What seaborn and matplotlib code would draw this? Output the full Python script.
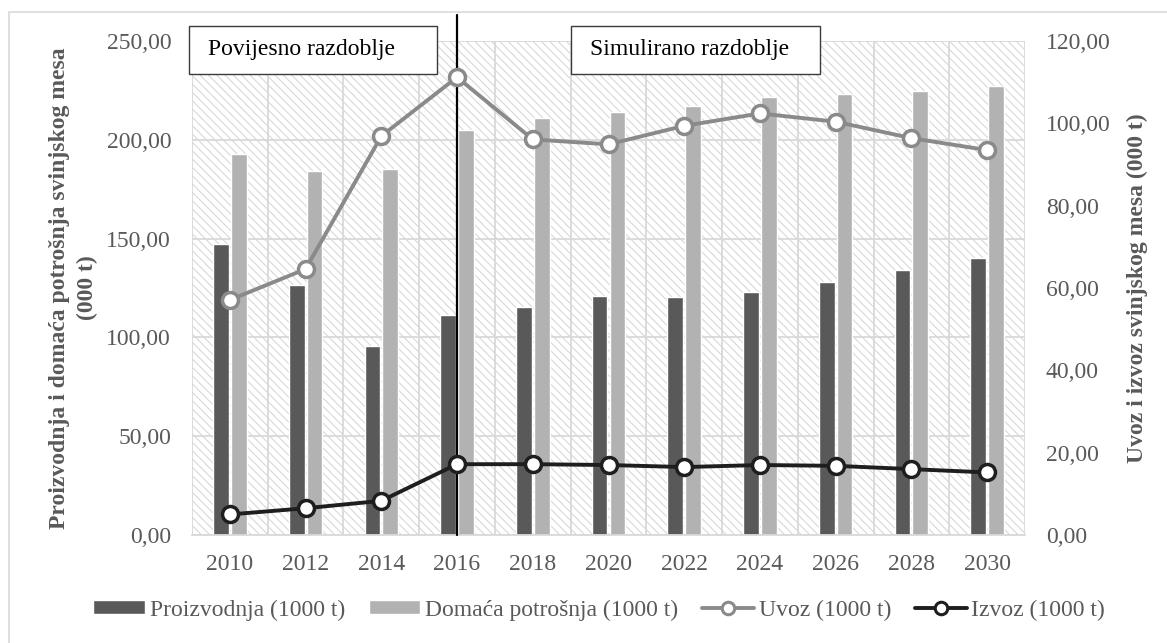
import numpy as np
import pandas as pd
import matplotlib
matplotlib.use('Agg')
import matplotlib.pyplot as plt
import seaborn as sns
from matplotlib.patches import Rectangle, Patch
from matplotlib.lines import Line2D
from matplotlib.ticker import FuncFormatter, FixedLocator

# Podaci
godine = ['2010', '2012', '2014', '2016', '2018', '2020', '2022', '2024', '2026', '2028', '2030']
proizvodnja = [147.5, 126.5, 95.6, 111.3, 115.4, 121.0, 120.4, 123.0, 128.0, 134.0, 140.0]
potrosnja = [192.8, 184.4, 185.1, 205.0, 210.9, 214.0, 217.1, 221.7, 223.4, 224.9, 227.2]
uvoz = [57.1, 64.6, 96.9, 111.2, 96.1, 94.9, 99.4, 102.4, 100.4, 96.4, 93.5]
izvoz = [5.0, 6.5, 8.3, 17.2, 17.2, 17.0, 16.5, 17.0, 16.8, 16.0, 15.2]

naziv_proiz = 'Proizvodnja (1000 t)'
naziv_potr = 'Domaća potrošnja (1000 t)'
naziv_uvoz = 'Uvoz (1000 t)'
naziv_izvoz = 'Izvoz (1000 t)'

sns.set_style('white')
plt.rcParams['font.family'] = ['Liberation Serif', 'DejaVu Serif']
plt.rcParams['hatch.linewidth'] = 0.7

siva_tekst = '#595959'
siva_mreza = '#d9d9d9'
boja_proiz = '#595959'
boja_potr = '#b2b2b2'
boja_uvoz = '#8a8a8a'
boja_izvoz = '#1e1e1e'

W, H = 1167, 643
fig = plt.figure(figsize=(W / 100, H / 100), dpi=100)
ax = fig.add_axes([192 / W, 1 - 535 / H, (1025 - 192) / W, (535 - 41) / H])

# Okvir grafikona
fig.patches.append(Rectangle((9 / W, -0.01), 1.0, 1 - 12 / H + 0.01, transform=fig.transFigure,
                             facecolor='none', edgecolor='#d9d9d9', lw=1.2))

# Šrafirana pozadina
ax.add_patch(Rectangle((0, 0), 1, 1, transform=ax.transAxes, facecolor='white',
                       edgecolor='#d3d3d3', hatch='\\\\\\\\', lw=0, zorder=0.1))

df = pd.DataFrame({'Godina': godine * 2,
                   'Vrijednost': proizvodnja + potrosnja,
                   'Serija': [naziv_proiz] * len(godine) + [naziv_potr] * len(godine)})

sns.barplot(data=df, x='Godina', y='Vrijednost', hue='Serija',
            palette=[boja_proiz, boja_potr], width=0.47, gap=0.12,
            saturation=1, legend=False, ax=ax, zorder=2)

ax.set_ylim(0, 250)
ax.set_xlim(-0.5, len(godine) - 0.5)
ax.set_yticks(np.arange(0, 251, 50))
fmt = FuncFormatter(lambda v, p: f'{v:.2f}'.replace('.', ','))
ax.yaxis.set_major_formatter(fmt)
ax.set_axisbelow(True)
ax.grid(axis='y', color=siva_mreza, lw=1.3, zorder=0.5)
ax.xaxis.set_minor_locator(FixedLocator(np.arange(len(godine) + 1) - 0.5))
ax.grid(axis='x', which='minor', color=siva_mreza, lw=1.3, zorder=0.5)
ax.tick_params(axis='x', which='major', length=0, pad=14, labelsize=17, labelcolor=siva_tekst)
ax.tick_params(axis='x', which='minor', length=7, color=siva_mreza, width=1.3)
ax.tick_params(axis='y', length=0, pad=15, labelsize=17, labelcolor=siva_tekst)
for s in ['top', 'right', 'left']:
    ax.spines[s].set_visible(False)
ax.spines['bottom'].set_color(siva_mreza)
ax.spines['bottom'].set_linewidth(1.3)
ax.set_xlabel('')
ax.set_ylabel('Proizvodnja i domaća potrošnja svinjskog mesa\n(000 t)', fontsize=17,
              fontweight='bold', color=siva_tekst, labelpad=6, linespacing=1.45)

# Granica povijesnog i simuliranog razdoblja
ax.axvline(godine.index('2016'), ymin=0, ymax=(535 - 15) / 494, color='black', lw=1.6,
           clip_on=False, zorder=3)

# Desna os: uvoz i izvoz
ax2 = ax.twinx()
poz = np.arange(len(godine))
sns.lineplot(x=poz, y=uvoz, ax=ax2, color=boja_uvoz, lw=2.8, marker='o', markersize=11.5,
             markerfacecolor='white', markeredgecolor=boja_uvoz, markeredgewidth=2.5, zorder=4)
sns.lineplot(x=poz, y=izvoz, ax=ax2, color=boja_izvoz, lw=2.8, marker='o', markersize=11.5,
             markerfacecolor='white', markeredgecolor=boja_izvoz, markeredgewidth=2.5, zorder=4)
ax2.set_ylim(0, 120)
ax2.set_xlim(-0.5, len(godine) - 0.5)
ax2.set_yticks(np.arange(0, 121, 20))
ax2.yaxis.set_major_formatter(fmt)
ax2.tick_params(axis='y', length=0, pad=15, labelsize=17, labelcolor=siva_tekst)
for s in ['top', 'right', 'left', 'bottom']:
    ax2.spines[s].set_visible(False)
ax2.set_ylabel('Uvoz i izvoz svinjskog mesa (000 t)', fontsize=17, fontweight='bold',
               color=siva_tekst, labelpad=12)

# Oznake razdoblja
for x0, x1, tekst in [(189, 437, 'Povijesno razdoblje'), (571, 820, 'Simulirano razdoblje')]:
    fig.patches.append(Rectangle((x0 / W, 1 - 74 / H), (x1 - x0) / W, 48 / H,
                                 transform=fig.transFigure, facecolor='white',
                                 edgecolor='#3a3a3a', lw=1.0, zorder=5))
    fig.text((x0 + 19) / W, 1 - 50 / H, tekst, fontsize=17, color='black',
             ha='left', va='center', zorder=6)

# Legenda
rucke = [Patch(facecolor=boja_proiz, label=naziv_proiz),
         Patch(facecolor=boja_potr, label=naziv_potr),
         Line2D([], [], color=boja_uvoz, lw=2.8, marker='o', markersize=9,
                markerfacecolor='white', markeredgecolor=boja_uvoz, markeredgewidth=2.2, label=naziv_uvoz),
         Line2D([], [], color=boja_izvoz, lw=2.8, marker='o', markersize=9,
                markerfacecolor='white', markeredgecolor=boja_izvoz, markeredgewidth=2.2, label=naziv_izvoz)]
leg = fig.legend(handles=rucke, loc='center', bbox_to_anchor=(599 / W, 1 - 610 / H), ncol=4,
                 frameon=False, fontsize=17, handlelength=2.2, handleheight=0.5,
                 handletextpad=0.2, columnspacing=1.0)
for t in leg.get_texts():
    t.set_color(siva_tekst)

fig.savefig('out.png', dpi=100, facecolor='white')
